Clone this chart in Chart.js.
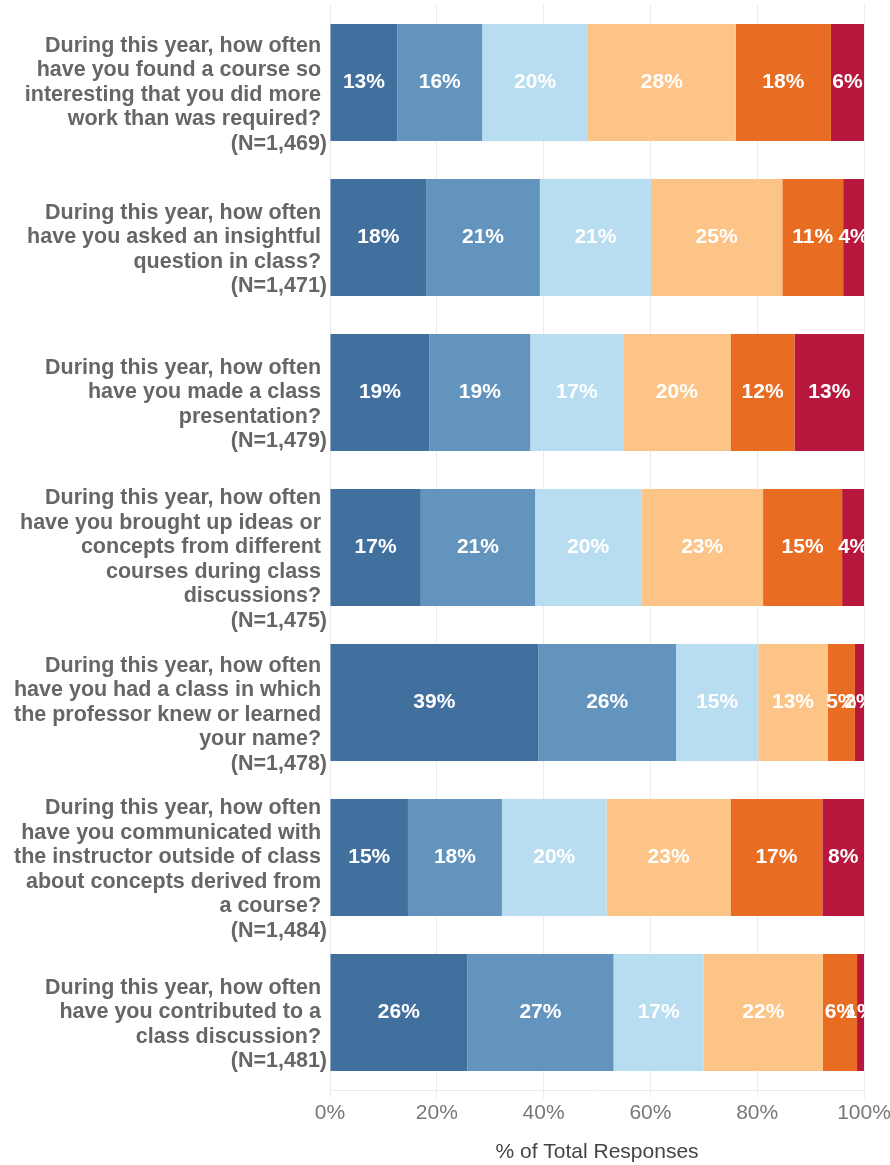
<!DOCTYPE html>
<html lang="en">
<head>
    <meta charset="utf-8">
    <script src="https://cdn.jsdelivr.net/npm/chart.js@4.4.0/dist/chart.umd.min.js"></script>
    <style>
        html, body { margin: 0; padding: 0; background: #fff; }
        .chart-container { position: relative; width: 890px; height: 1165px; }
    </style>
</head>
<body>

<div class="chart-container">
    <canvas id="myChart"></canvas>
</div>

<script>
    // question text, one entry per bar (lines as shown)
    var questions = [
        ["During this year, how often", "have you found a course so", "interesting that you did more", "work than was required?"],
        ["During this year, how often", "have you asked an insightful", "question in class?"],
        ["During this year, how often", "have you made a class", "presentation?"],
        ["During this year, how often", "have you brought up ideas or", "concepts from different", "courses during class", "discussions?"],
        ["During this year, how often", "have you had a class in which", "the professor knew or learned", "your name?"],
        ["During this year, how often", "have you communicated with", "the instructor outside of class", "about concepts derived from", "a course?"],
        ["During this year, how often", "have you contributed to a", "class discussion?"]
    ];
    var counts = ["(N=1,469)", "(N=1,471)", "(N=1,479)", "(N=1,475)", "(N=1,478)", "(N=1,484)", "(N=1,481)"];

    // % of responses per answer, left to right
    var resp1 = [12.6, 18.0, 18.6, 17.0, 39.0, 14.6, 25.7];
    var resp2 = [15.9, 21.3, 18.9, 21.4, 25.8, 17.6, 27.4];
    var resp3 = [19.8, 20.8, 17.4, 19.9, 15.4, 19.6, 16.9];
    var resp4 = [27.7, 24.6, 20.1, 22.8, 13.0, 23.2, 22.3];
    var resp5 = [17.8, 11.4, 12.0, 14.8, 5.1, 17.2, 6.4];
    var resp6 = [6.2, 3.9, 13.0, 4.1, 1.7, 7.8, 1.3];

    var xTicks = [0, 20, 40, 60, 80, 100];

    var colors = ["#416f9e", "#6394bd", "#b9ddf0", "#fdc488", "#e86c22", "#b8173d"];
    var FONT = "Arial, 'Liberation Sans', sans-serif";

    // blank line on top so the question is centred on the bar and the N hangs below
    var labels = questions.map(function (q, i) {
        return [""].concat(q.map(function (l) { return l + " "; }), [counts[i]]);
    });

    var valueLabels = {
        id: "valueLabels",
        afterDatasetsDraw: function (chart) {
            var ctx = chart.ctx, area = chart.chartArea;
            ctx.save();
            ctx.beginPath();
            ctx.rect(area.left, area.top, area.right - area.left, area.bottom - area.top);
            ctx.clip();
            ctx.fillStyle = "#fff";
            ctx.font = "bold 21px " + FONT;
            ctx.textAlign = "center";
            ctx.textBaseline = "middle";
            chart.data.datasets.forEach(function (ds, di) {
                chart.getDatasetMeta(di).data.forEach(function (bar, i) {
                    ctx.fillText(Math.round(ds.data[i]) + "%", (bar.x + bar.base) / 2, bar.y);
                });
            });
            ctx.restore();
        }
    };

    var series = [resp1, resp2, resp3, resp4, resp5, resp6];

    var ctx = document.getElementById("myChart").getContext("2d");
    var myChart = new Chart(ctx, {
        type: "bar",
        data: {
            labels: labels,
            datasets: series.map(function (d, i) {
                return {
                    label: "Response " + (i + 1),
                    data: d,
                    backgroundColor: colors[i],
                    borderWidth: 0,
                    barPercentage: 0.755,
                    categoryPercentage: 1.0
                };
            })
        },
        options: {
            indexAxis: "y",
            responsive: true,
            maintainAspectRatio: false,
            animation: false,
            layout: { padding: { top: 5, right: 26, left: 0, bottom: 0 } },
            plugins: {
                legend: { display: false },
                tooltip: { enabled: false }
            },
            scales: {
                x: {
                    stacked: true,
                    min: 0,
                    max: 100,
                    afterBuildTicks: function (scale) {
                        scale.ticks = xTicks.map(function (v) { return { value: v }; });
                    },
                    afterFit: function (scale) {
                        scale.height = 75;
                        scale.paddingLeft = 0;
                        scale.paddingRight = 0;
                    },
                    grid: { color: "#ebebeb", lineWidth: 1, tickLength: 8, drawTicks: true },
                    border: { display: true, color: "#ebebeb" },
                    ticks: {
                        padding: 3,
                        color: "#777",
                        font: { family: FONT, size: 21 },
                        callback: function (v) { return v + "%"; }
                    },
                    title: {
                        display: true,
                        text: "% of Total Responses",
                        color: "#444",
                        font: { family: FONT, size: 21 },
                        padding: { top: 0, bottom: 0 }
                    }
                },
                y: {
                    stacked: true,
                    afterFit: function (scale) {
                        scale.width = 330;
                        scale.paddingTop = 0;
                        scale.paddingBottom = 0;
                    },
                    grid: { display: false, drawTicks: false },
                    border: { display: false },
                    ticks: {
                        autoSkip: false,
                        padding: 3,
                        color: "#666",
                        font: { family: FONT, size: 21.5, weight: "bold", lineHeight: 1.14 }
                    }
                }
            }
        },
        plugins: [valueLabels]
    });
</script>

</body>
</html>
